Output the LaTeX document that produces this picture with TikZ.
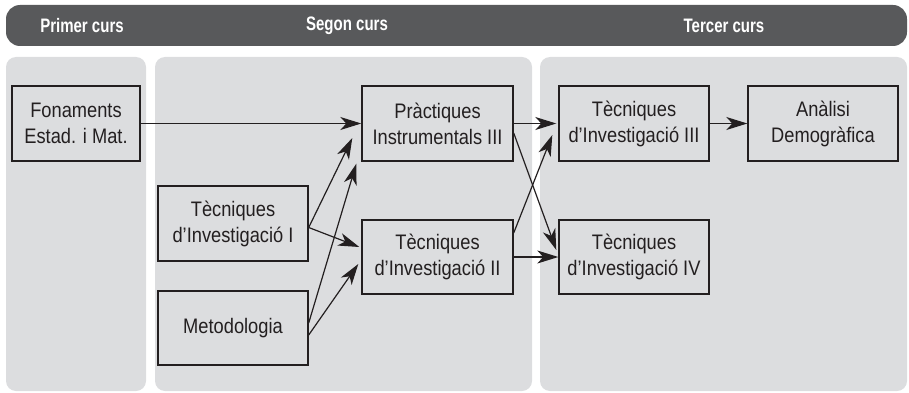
\documentclass[tikz,border=0pt]{standalone}
\usepackage{fontspec}
\setmainfont{Liberation Sans}[FakeStretch=0.87]
\newfontfamily\hdfont[FakeStretch=0.77]{Liberation Sans}
\usetikzlibrary{arrows.meta}
\definecolor{hdgray}{HTML}{58595B}
\definecolor{panelgray}{HTML}{DCDDDF}
\definecolor{ink}{HTML}{231F20}
\begin{document}
\begin{tikzpicture}[x=1pt,y=-1pt,
  panel/.style={fill=panelgray,draw=none,rounded corners=10pt},
  hdtext/.style={text=white,font=\hdfont\bfseries\fontsize{19.5}{22}\selectfont,inner sep=0pt},
  course/.style={draw=ink,line width=1.4pt,fill=none,text=ink,align=center,
    minimum height=75pt,inner sep=0pt,font=\fontsize{21}{26}\selectfont},
  wide/.style={minimum width=151pt},
  link/.style={draw=ink,line width=1.2pt,-{Stealth[length=21pt,width=13pt,inset=6pt]}}
]
\useasboundingbox (0,0) rectangle (909,393);
% header
\fill[hdgray,rounded corners=14pt] (6,5) rectangle (907,46);
\node[hdtext] (h1) at (82,25.5) {Primer curs};
\node[hdtext] (h2) at (347,25.5) {Segon curs};
\node[hdtext] (h3) at (724,25.5) {Tercer curs};
% panels
\fill[panel] (6,57) rectangle (146,391);
\fill[panel] (155,57) rectangle (532,391);
\fill[panel] (540,57) rectangle (907,391);
% boxes
\node[course,minimum width=128pt] (fon) at (76,123.5) {Fonaments\\Estad. i Mat.};
\node[course,wide] (prac) at (437.5,123.5) {Pràctiques\\Instrumentals III};
\node[course,minimum width=150pt] (ti3) at (634,123.5) {Tècniques\\d’Investigació III};
\node[course,minimum width=150pt] (anal) at (823,123.5) {Anàlisi\\Demogràfica};
\node[course,minimum width=150pt] (ti1) at (233,223.5) {Tècniques\\d’Investigació I};
\node[course,wide,minimum height=74pt] (ti2) at (437.5,257) {Tècniques\\d’Investigació II};
\node[course,minimum width=150pt,minimum height=74pt] (ti4) at (634,257) {Tècniques\\d’Investigació IV};
\node[course,minimum width=150pt,minimum height=74pt] (met) at (233,328) {Metodologia};
% connectors
\draw[link] (fon.east) -- (prac.west);
\draw[link] ([yshift=-4pt]ti1.east) -- ([xshift=-9pt,yshift=-14.5pt]prac.west);
\draw[link] ([yshift=-4pt]ti1.east) -- ([xshift=-2pt,yshift=10pt]ti2.west);
\draw[link] ([yshift=5pt]met.east) -- ([xshift=-5pt,yshift=-2pt]prac.south west);
\draw[link] ([yshift=-7pt]met.east) -- ([xshift=-3pt,yshift=-7pt]ti2.west);
\draw[link] (prac.east) -- ([xshift=-2pt]ti3.west);
\draw[link] ([yshift=-9.5pt]prac.east) -- ([xshift=-2pt,yshift=7pt]ti4.west);
\draw[link] ([yshift=24pt]ti2.east) -- ([xshift=-6pt,yshift=-11.5pt]ti3.west);
\draw[link] (ti2.east) -- (ti4.west);
\draw[link] (ti3.east) -- (anal.west);
\end{tikzpicture}
\end{document}
